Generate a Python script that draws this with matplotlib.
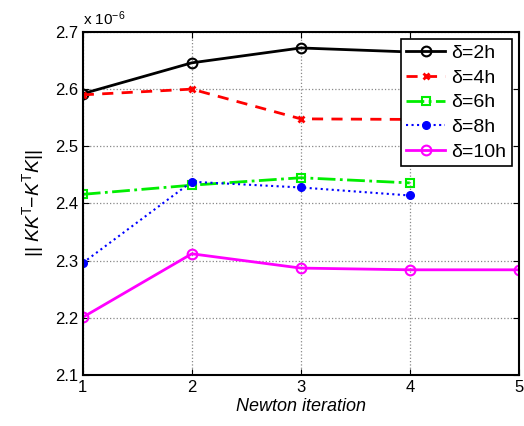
import matplotlib
matplotlib.use("Agg")
import matplotlib.pyplot as plt

plt.rcParams['font.family'] = ['Liberation Sans', 'DejaVu Sans']
plt.rcParams['mathtext.fontset'] = 'custom'
plt.rcParams['mathtext.rm'] = 'Liberation Sans'
plt.rcParams['mathtext.it'] = 'Liberation Sans:italic'

iters_2h = [1, 2, 3, 4]
vals_2h = [2.592, 2.646, 2.672, 2.665]
iters_4h = [1, 2, 3, 4]
vals_4h = [2.590, 2.600, 2.548, 2.547]
iters_6h = [1, 2, 3, 4]
vals_6h = [2.416, 2.432, 2.445, 2.436]
iters_8h = [1, 2, 3, 4]
vals_8h = [2.296, 2.438, 2.428, 2.414]
iters_10h = [1, 2, 3, 4, 5]
vals_10h = [2.201, 2.312, 2.287, 2.284, 2.284]
labels = ['δ=2h', 'δ=4h', 'δ=6h', 'δ=8h', 'δ=10h']
xticks = [1, 2, 3, 4, 5]
yticks = [2.1, 2.2, 2.3, 2.4, 2.5, 2.6, 2.7]

fig = plt.figure(figsize=(5.24, 4.26), dpi=100)
ax = fig.add_axes([0.158, 0.1197, 0.832, 0.8053])

ax.plot(iters_2h, vals_2h, color='black', lw=2, ls='-', marker='o', ms=7,
        mfc='none', mew=1.5, label=labels[0])
ax.plot(iters_4h, vals_4h, color='#ff0000', lw=2, ls='--', dashes=(4, 3), marker='x', ms=5,
        mew=2, label=labels[1])
ax.plot(iters_6h, vals_6h, color='#00ee00', lw=2, ls='-.', marker='s', ms=6,
        mfc='none', mew=1.5, label=labels[2])
ax.plot(iters_8h, vals_8h, color='#0000ff', lw=1.5, ls=':', marker='.', ms=11,
        label=labels[3])
ax.plot(iters_10h, vals_10h, color='#ff00ff', lw=2, ls='-', marker='o', ms=7,
        mfc='none', mew=1.5, label=labels[4])

ax.set_xlim(1, 5)
ax.set_ylim(2.1, 2.7)
ax.set_xticks(xticks)
ax.set_yticks(yticks)
ax.set_yticklabels([f'{v:.1f}' for v in yticks])
ax.tick_params(direction='in', top=True, right=True, labelsize=12, length=4)
ax.grid(True, ls=':', color='#888888', lw=0.9)
for s in ax.spines.values():
    s.set_linewidth(1.5)

ax.set_xlabel('Newton iteration', fontsize=13, style='italic', labelpad=2)
ax.set_ylabel(r'$||\ KK^{\mathrm{T}}\!\!-\!K^{\mathrm{T}}K||$', fontsize=14, labelpad=6)
ax.text(0.0, 1.012, r'x 10$^{-6}$', transform=ax.transAxes, fontsize=11,
        ha='left', va='bottom')

leg = ax.legend(loc='upper right', fontsize=14, fancybox=False, framealpha=1,
                edgecolor='black', borderaxespad=0.35, handlelength=2.0,
                labelspacing=0.36, borderpad=0.3, handletextpad=0.3)
leg.get_frame().set_linewidth(1.2)

fig.savefig('out.png', dpi=100)
